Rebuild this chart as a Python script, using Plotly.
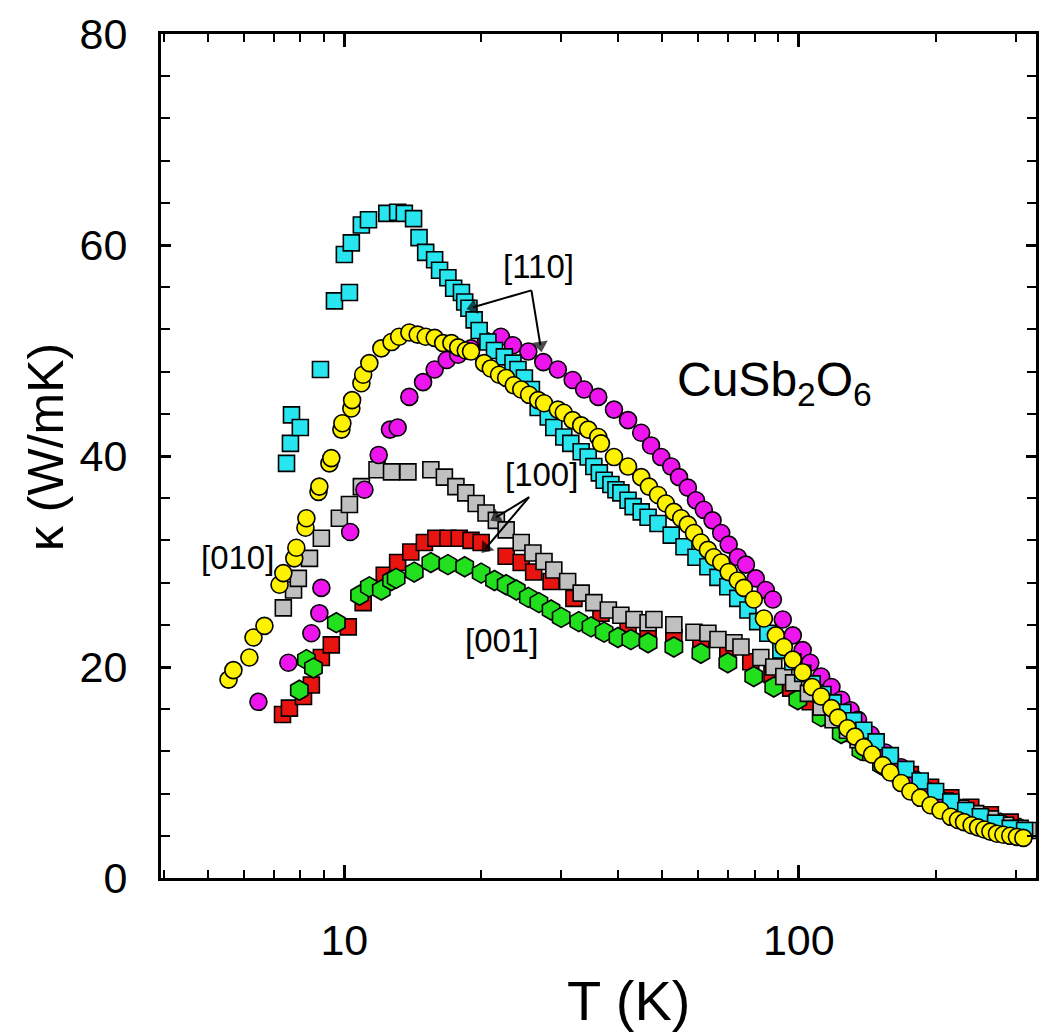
import plotly.graph_objects as go
import math

# ---- data (T in K, kappa in W/mK) ----
T_110a = [7.46, 7.61, 7.65, 8.00, 8.86, 9.51, 10.26, 10.0, 10.36, 10.9, 11.3, 12.4, 13.1, 13.55, 14.2, 14.6, 15.1, 15.8,
          16.2, 16.9, 17.4, 18.1, 18.4, 18.8, 19.3, 19.8, 20.7, 21.4, 22.5, 23.5, 24.1, 24.9, 25.8, 26.7, 28.1, 28.9,
          30.4, 31.5, 33.2, 34.4, 35.4, 36.4, 37.3, 38.6, 39.6, 40.6, 42.1, 43.2, 45.0, 46.6, 49.0, 52.4, 55.9, 59.4,
          63.1, 66.4, 69.8, 73.4, 77.3, 81.2, 85.5, 91.3, 97.0, 102, 107, 113, 119, 125, 132, 139, 148, 159, 172, 185,
          200, 216, 233, 251, 271, 292, 314]
K_110a = [39.3, 41.2, 43.9, 42.7, 48.2, 54.7, 55.5, 59.1, 60.2, 61.9, 62.4, 63.0, 63.1, 63.0, 62.5, 60.7, 59.3, 58.6,
          57.6, 56.9, 55.9, 55.5, 54.6, 54.0, 52.9, 51.9, 50.8, 50.0, 49.4, 48.8, 48.2, 47.4, 46.3, 44.6, 43.7, 42.7,
          41.8, 41.2, 40.4, 39.9, 39.0, 38.4, 37.7, 37.3, 36.8, 36.5, 35.8, 35.2, 34.7, 34.2, 33.6, 32.5, 31.4, 30.4,
          29.5, 28.5, 27.6, 26.5, 25.4, 24.3, 23.2, 21.6, 20.5, 19.4, 18.4, 17.4, 16.6, 15.7, 14.9, 14.0, 12.9, 11.6,
          10.3, 9.2, 8.2, 7.2, 6.4, 5.8, 5.2, 4.7, 4.5]

T_110b = [6.47, 7.53, 8.46, 8.81, 8.90, 10.3, 11.07, 11.9, 12.6, 13.1, 13.9, 14.9, 15.8, 16.8, 17.8, 19.0, 20.5, 22.1,
          23.5, 25.4, 27.4, 29.5, 31.8, 33.7, 36.2, 39.2, 42.1, 45.0, 47.3, 49.8, 52.4, 54.5, 57.0, 59.4, 61.8, 64.6,
          67.5, 70.1, 73.4, 76.5, 80.4, 84.6, 87.7, 92.2, 97.0, 102, 106, 112, 118, 124, 130, 135, 144, 155, 168, 181,
          195, 210, 227, 245, 264, 285, 307]
K_110b = [16.7, 20.4, 23.2, 25.1, 27.5, 32.8, 36.8, 40.1, 42.5, 42.7, 45.6, 47.0, 48.2, 49.1, 49.6, 50.2, 50.9, 51.3,
          50.5, 49.9, 48.9, 48.2, 47.2, 46.3, 45.6, 44.4, 43.4, 42.2, 41.0, 39.9, 39.0, 38.0, 37.0, 35.8, 34.9, 33.9,
          32.7, 31.6, 30.4, 29.7, 28.4, 27.3, 26.4, 24.5, 23.0, 21.6, 20.4, 19.1, 18.1, 16.9, 15.9, 15.0, 13.6, 11.9,
          10.5, 9.3, 8.2, 7.1, 6.3, 5.5, 4.9, 4.5, 4.3]

T_010 = [5.56, 5.70, 6.18, 6.31, 6.67, 7.20, 7.34, 7.76, 7.84, 8.21, 8.25, 8.77, 8.81, 9.27, 9.36, 9.85, 9.9, 10.36,
         10.4, 10.9, 11.0, 11.35, 12.06, 12.7, 13.2, 13.9, 14.5, 15.1, 15.8, 16.5, 17.2, 17.8, 18.5, 19.0, 20.3, 21.0,
         21.9, 22.7, 23.6, 24.5, 25.5, 26.7, 27.5, 29.5, 30.4, 31.8, 33.2, 34.4, 36.2, 36.7, 39.2, 42.1, 45.0, 46.8,
         49.0, 51.0, 53.1, 55.1, 57.0, 58.8, 60.9, 63.1, 65.0, 67.5, 70.1, 73.4, 75.7, 79.6, 83.8, 89.0, 92.7, 97.0,
         102, 107, 112, 118, 122, 128, 133, 139, 145, 153, 159, 168, 176, 185, 195, 205, 216, 224, 231, 240, 248, 256,
         264, 273, 282, 292, 302, 312]
K_010 = [18.8, 19.7, 20.9, 22.8, 23.9, 27.8, 28.9, 30.3, 31.3, 33.2, 34.1, 36.6, 37.1, 39.3, 39.8, 42.5, 43.1, 44.5,
         45.3, 46.9, 47.7, 48.8, 50.2, 50.8, 51.3, 51.7, 51.5, 51.3, 51.2, 50.7, 50.7, 50.3, 50.0, 49.9, 48.8, 48.3,
         47.7, 47.4, 46.7, 46.3, 45.8, 45.3, 45.0, 44.4, 44.1, 43.4, 42.9, 42.5, 41.8, 41.2, 39.9, 39.0, 38.0, 37.1,
         36.3, 35.5, 34.7, 34.1, 33.5, 32.7, 31.8, 31.1, 30.4, 29.9, 29.0, 28.2, 27.5, 26.4, 24.6, 23.0, 21.9, 20.7,
         19.5, 18.1, 17.2, 16.1, 15.2, 14.2, 13.4, 12.4, 11.7, 10.7, 10.0, 9.0, 8.2, 7.6, 6.9, 6.4, 5.8, 5.5, 5.3, 5.0,
         4.8, 4.6, 4.4, 4.2, 4.1, 4.0, 3.9, 3.8]

T_100a = [7.34, 7.73, 7.92, 8.38, 8.90, 9.75, 10.26, 10.9, 11.8, 12.7, 13.8, 15.5, 16.6, 17.6, 18.5, 19.5, 20.5, 21.6,
          22.7, 24.5, 26.0, 27.5, 28.9, 31.0, 33.2, 35.4, 38.1, 40.6, 43.4, 46.6, 48.0, 53.1, 58.8, 63.1, 66.4, 72.0,
          74.6, 82.5, 88.1, 92.7, 97.4, 105, 112, 119, 128, 135, 144, 155, 168, 181, 195, 210, 227, 245, 264, 285, 307, 320]
K_100a = [25.6, 27.3, 28.4, 30.3, 32.2, 34.1, 35.4, 37.1, 38.7, 38.5, 38.5, 38.7, 38.0, 37.1, 36.5, 35.5, 34.6, 33.9,
          33.0, 31.8, 30.8, 30.0, 29.2, 28.1, 27.0, 26.1, 25.4, 24.9, 24.5, 24.2, 24.5, 24.0, 23.3, 23.2, 22.6, 22.3,
          21.9, 20.9, 20.0, 19.1, 18.5, 17.5, 16.2, 15.0, 14.0, 13.1, 11.9, 10.9, 9.8, 8.8, 8.0, 7.3, 6.6, 6.1, 5.6, 5.0, 4.7, 4.5]

T_100b = [7.31, 7.57, 8.13, 8.46, 8.90, 9.36, 10.2, 11.0, 12.24, 13.1, 14.0, 15.0, 15.9, 16.9, 17.9, 19.0, 20.0, 22.7,
          24.5, 26.1, 28.5, 32.0, 36.7, 42.1, 46.6, 53.1, 60.9, 69.8, 78.4, 87.3, 96.0, 106, 118, 130, 144, 159, 176,
          195, 216, 239, 264, 292]
K_100b = [15.5, 16.1, 17.2, 18.3, 20.9, 22.1, 23.8, 26.1, 28.7, 29.9, 30.9, 31.8, 32.2, 32.2, 32.2, 32.0, 31.8, 30.5,
          29.9, 29.0, 28.1, 26.5, 25.1, 23.8, 23.3, 22.8, 22.3, 21.4, 20.5, 19.3, 18.0, 16.7, 15.2, 13.7, 12.3, 11.0, 9.8,
          8.6, 7.6, 6.7, 6.0, 5.3]

T_001 = [7.96, 8.25, 8.55, 9.60, 10.8, 11.35, 12.06, 12.7, 13.0, 14.25, 15.5, 16.9, 18.4, 20.0, 21.4, 22.7, 23.9, 25.4,
         26.8, 28.5, 30.0, 32.8, 34.9, 37.3, 40.0, 42.7, 46.6, 53.1, 60.9, 69.8, 79.6, 88.1, 99.5, 112, 124, 137, 152,
         168, 185, 205, 227, 251, 278, 307]
K_001 = [17.8, 20.7, 19.9, 24.2, 26.8, 27.6, 27.3, 28.2, 28.4, 29.0, 29.9, 29.7, 29.5, 28.9, 28.2, 27.8, 27.3, 26.6,
         26.1, 25.4, 24.7, 24.3, 23.8, 23.3, 22.8, 22.6, 22.3, 21.9, 21.3, 20.4, 19.1, 18.1, 16.9, 15.3, 13.7, 12.1, 10.7,
         9.5, 8.3, 7.4, 6.5, 5.8, 5.2, 4.7]

x_tick_major = [10, 100]
x_tick_minor = [4, 5, 6, 7, 8, 9, 20, 30, 40, 50, 60, 70, 80, 90, 200, 300]
y_tick_major = [0, 20, 40, 60, 80]

# arrow annotations: (tail T, tail kappa, head T, head kappa)
arrows_110 = [(25.8, 55.7, 19.2, 54.1), (25.8, 55.7, 27.0, 50.5)]
arrows_100 = [(25.5, 36.1, 21.6, 34.2), (25.5, 36.1, 20.5, 31.3)]

FONT = "Liberation Sans, Arial, sans-serif"
LINE = dict(color="black", width=1.6)

fig = go.Figure()

def add(T, K, color, symbol, size):
    fig.add_trace(go.Scatter(x=T, y=K, mode="markers", showlegend=False,
                             marker=dict(color=color, symbol=symbol, size=size, line=LINE)))

add(T_100b, K_100b, "#E8140F", "square", 16)
add(T_001, K_001, "#22E01E", "hexagon", 20)
add(T_100a, K_100a, "#C0C0C0", "square", 16)
add(T_110b, K_110b, "#EE14EE", "circle", 17)
add(T_110a, K_110a, "#28E6F0", "square", 16)
add(T_010, K_010, "#FFF200", "circle", 17)

for (T0, K0, T1, K1) in arrows_110 + arrows_100:
    fig.add_trace(go.Scatter(x=[T0, T1], y=[K0, K1], mode="lines+markers", showlegend=False,
                             line=dict(color="black", width=2),
                             marker=dict(symbol="triangle-up", angleref="previous", size=[0, 14],
                                         color="black", line=dict(width=0))))

lg = math.log10
ann = []
def label(T, K, text, size=33, **kw):
    ann.append(dict(x=lg(T), y=K, xref="x", yref="y", text=text, showarrow=False,
                    font=dict(family=FONT, size=size, color="black"), **kw))

label(26.8, 58.0, "[110]")
label(27.1, 38.2, "[100]")
label(5.83, 30.4, "[010]")
label(22.2, 22.5, "[001]")
label(53.5, 46.9, "CuSb<sub>2</sub>O<sub>6</sub>", size=48, xanchor="left")

# axis titles
ann.append(dict(x=0.534, y=-0.145, xref="paper", yref="paper", text="T (K)", showarrow=False,
                font=dict(family=FONT, size=56, color="black"), xanchor="center", yanchor="middle"))
ann.append(dict(x=-0.132, y=0.51, xref="paper", yref="paper", text="κ (W/mK)", showarrow=False, textangle=-90,
                font=dict(family=FONT, size=50, color="black"), xanchor="center", yanchor="middle"))

fig.update_layout(
    width=1039, height=1035,
    margin=dict(l=161, r=0, t=34, b=157),
    paper_bgcolor="white", plot_bgcolor="white",
    annotations=ann,
    xaxis=dict(type="log", range=[0.5965, 2.522], showgrid=False, zeroline=False,
               showline=True, linecolor="black", linewidth=3, mirror="ticks",
               tickmode="array", tickvals=x_tick_major, ticktext=[str(v) for v in x_tick_major],
               ticks="inside", ticklen=13, tickwidth=2.5, tickcolor="black",
               tickfont=dict(family=FONT, size=43, color="black"), ticklabelstandoff=22,
               minor=dict(tickmode="array", tickvals=x_tick_minor, ticks="inside", ticklen=8,
                          tickwidth=2, tickcolor="black", showgrid=False)),
    yaxis=dict(range=[0, 80], showgrid=False, zeroline=False,
               showline=True, linecolor="black", linewidth=3, mirror="ticks",
               tickmode="array", tickvals=y_tick_major,
               ticks="inside", ticklen=10, tickwidth=2.5, tickcolor="black",
               tickfont=dict(family=FONT, size=43, color="black"), ticklabelstandoff=22,
               minor=dict(dtick=4, tick0=0, ticks="inside", ticklen=9, tickwidth=2,
                          tickcolor="black", showgrid=False)),
)

fig.write_html("out.html")
